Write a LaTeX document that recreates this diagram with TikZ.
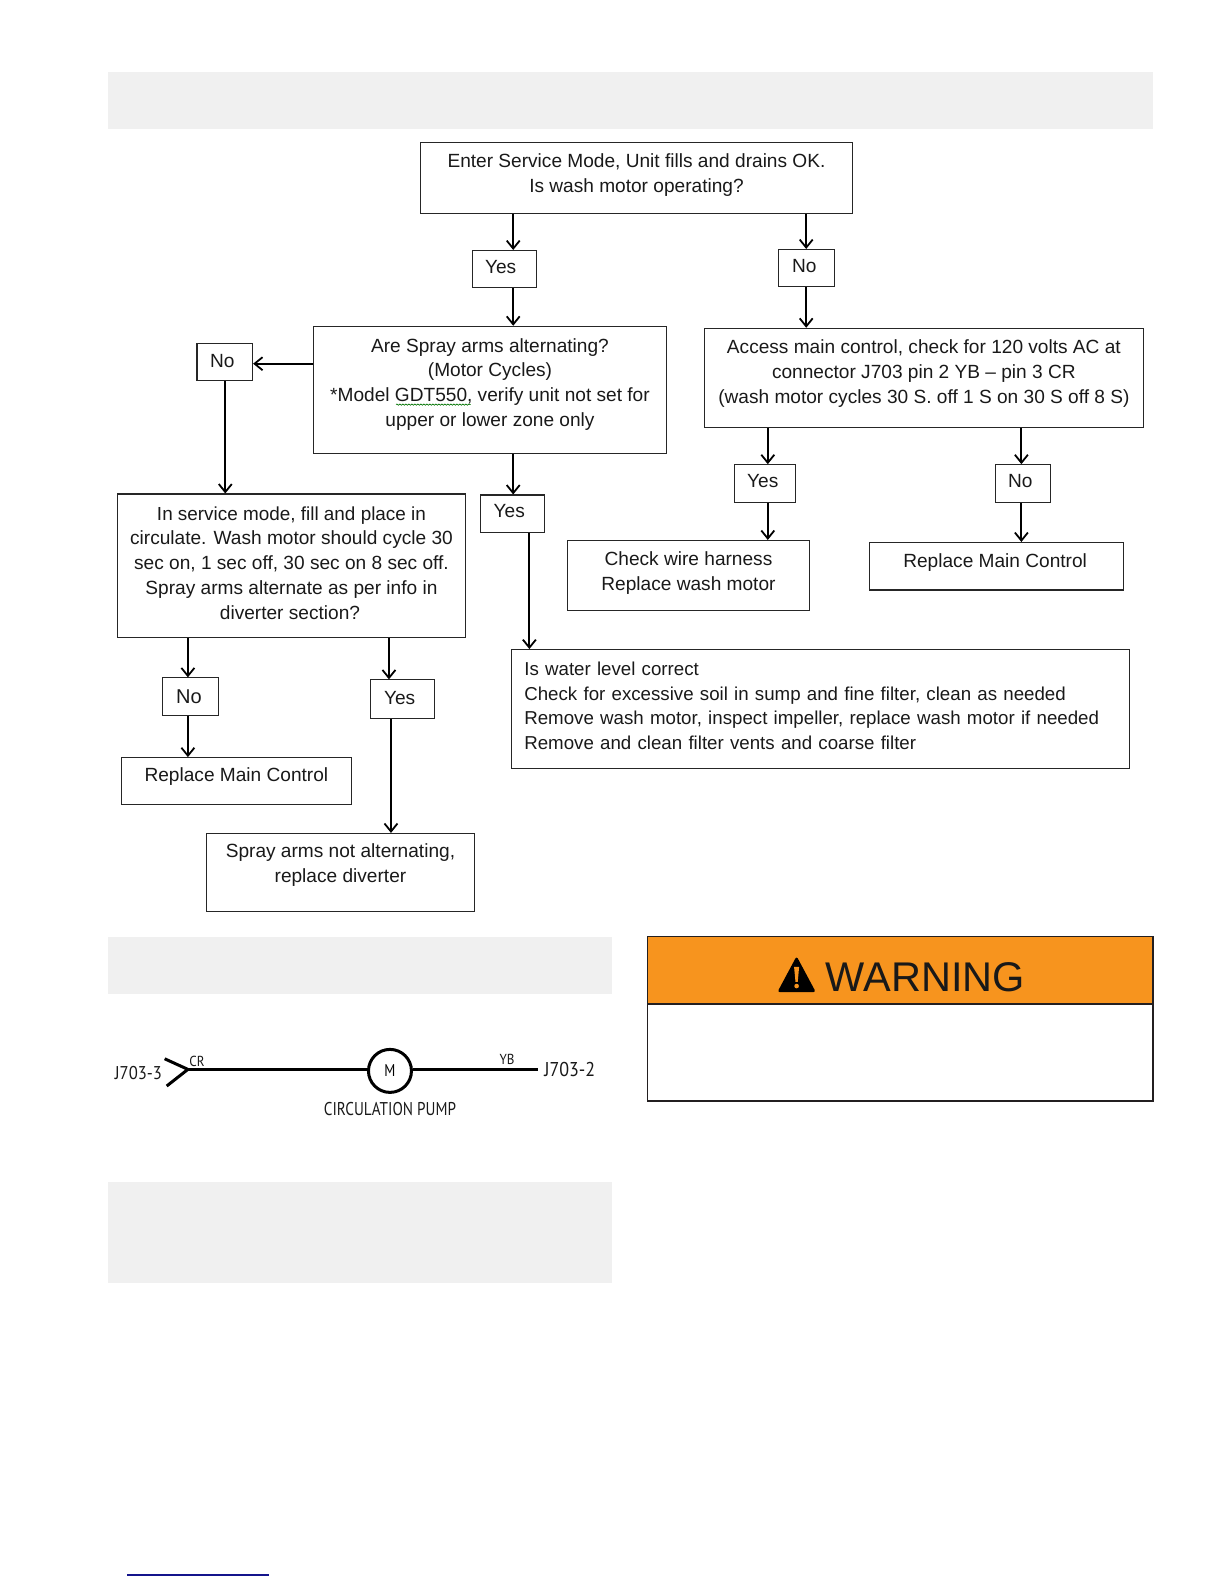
\documentclass[tikz,border=0pt]{standalone}
\usepackage{fontspec}
\setmainfont{Liberation Sans}
\newfontfamily\ptsans[FakeStretch=0.82]{PT Sans}
\newfontfamily\ptwide[FakeStretch=0.9]{PT Sans}
\usetikzlibrary{arrows.meta,decorations.pathmorphing}
\definecolor{band}{HTML}{F0F0F0}
\definecolor{warnorange}{HTML}{F7941E}
\definecolor{framedark}{HTML}{231F20}
\def\sc{1.0103}
\tikzset{
  flowbox/.style={draw=black!85,line width=1.1pt,inner sep=0pt,align=center,text=black!90,font=\fontsize{19.1}{24.8}\selectfont},
  arr/.style={draw=black,line width=1.8pt,-{Straight Barb[length=8pt,width=13pt,line width=1.8pt]}},
  bandfill/.style={fill=band,draw=none},
  wire/.style={draw=black,line width=3pt},
  schem/.style={inner sep=0pt,text=black!90}
}
% name x1 y1 x2 y2 pad text
\newcommand\bx[7]{%
  \pgfmathsetmacro\bw{(#4-#2)*\sc}\pgfmathsetmacro\bh{(#5-#3)*\sc}%
  \node[flowbox,minimum width=\bw pt,minimum height=\bh pt] (#1) at ({(#2+#4)/2},{(#3+#5)/2}) {#7\rule[-#6pt]{0pt}{0pt}};}
\begin{document}
\begin{tikzpicture}[x=1.0103pt,y=-1.0103pt]
\useasboundingbox (0,0) rectangle (1211.5,1567.9);
% grey bands
\fill[bandfill] (107,71) rectangle (1141,128);
\fill[bandfill] (107,927) rectangle (606,984);
\fill[bandfill] (107,1170) rectangle (606,1270);
% boxes
\bx{top}{416}{141}{844}{211}{10}{Enter Service Mode, Unit fills and drains OK.\\Is wash motor operating?}
\bx{yesa}{468}{248}{531}{285}{5}{Yes\kern8pt}
\bx{noa}{771}{247}{826}{284}{5}{No\kern5pt}
\bx{spray}{310}{323}{660}{449}{15}{Are Spray arms alternating?\\(Motor Cycles)\\*Model GDT550, verify unit not set for\\upper or lower zone only}
\bx{access}{697}{325}{1132}{423}{13}{Access main control, check for 120 volts AC at\\connector J703 pin 2 YB -- pin 3 CR\\(wash motor cycles 30 S. off 1 S on 30 S off 8 S)}
\bx{nob}{195}{340}{250}{377}{3}{No\kern5pt}
\bx{yesb}{476}{490}{539}{527}{5}{Yes\kern7pt}
\bx{yesc}{727}{460}{787}{497}{5}{Yes\kern4pt}
\bx{noc}{985}{460}{1040}{497}{5}{No\kern5pt}
\bx{circ}{116}{489}{461}{631}{6}{\fontsize{18.9}{24.8}\selectfont In service mode, fill and place in\\circulate. Wash motor should cycle 30\\sec on, 1 sec off, 30 sec on 8 sec off.\\Spray arms alternate as per info in\\diverter section?\kern3pt}
\bx{harness}{562}{535}{801}{604}{9}{Check wire harness\\Replace wash motor}
\bx{repa}{861}{537}{1112}{584}{12}{Replace Main Control\kern3pt}
\pgfmathsetmacro\bw{612*\sc}\pgfmathsetmacro\bh{118*\sc}\pgfmathsetmacro\tw{586*\sc}
\node[flowbox,font=\fontsize{18.7}{24.8}\selectfont,align=left,minimum width=\bw pt,minimum height=\bh pt,text width=\tw pt] (water) at (812,702) {Is water level correct\\Check for excessive soil in sump and fine filter, clean as needed\\Remove wash motor, inspect impeller, replace wash motor if needed\\Remove and clean filter vents and coarse filter\rule[-7pt]{0pt}{0pt}};
\bx{nod}{161}{671}{216}{708}{0}{\fontsize{20}{24}\selectfont No\kern3pt}
\bx{yesd}{367}{673}{430}{711}{3}{Yes\kern6pt}
\bx{repb}{120}{750}{348}{796}{12}{Replace Main Control}
\bx{notalt}{204}{825}{470}{902}{19}{Spray arms not alternating,\\replace diverter}
% connectors
\draw[arr] (508,0 |- top.south) -- (508,0 |- yesa.north);
\draw[arr] (798,0 |- top.south) -- (798,0 |- noa.north);
\draw[arr] (508,0 |- yesa.south) -- (508,0 |- spray.north);
\draw[arr] (798,0 |- noa.south) -- (798,0 |- access.north);
\draw[arr] (spray.west |- 0,360) -- (nob.east |- 0,360);
\draw[arr] (223,0 |- nob.south) -- (223,0 |- circ.north);
\draw[arr] (508,0 |- spray.south) -- (508,0 |- yesb.north);
\draw[arr] (524,0 |- yesb.south) -- (524,0 |- water.north);
\draw[arr] (760,0 |- access.south) -- (760,0 |- yesc.north);
\draw[arr] (760,0 |- yesc.south) -- (760,0 |- harness.north);
\draw[arr] (1011,0 |- access.south) -- (1011,0 |- noc.north);
\draw[arr] (1011,0 |- noc.south) -- (1011,0 |- repa.north);
\draw[arr] (186,0 |- circ.south) -- (186,0 |- nod.north);
\draw[arr] (186,0 |- nod.south) -- (186,0 |- repb.north);
\draw[arr] (385,0 |- circ.south) -- (385,0 |- yesd.north);
\draw[arr] (387,0 |- yesd.south) -- (387,0 |- notalt.north);
% spell-check squiggle
\draw[green!45!black,line width=.6pt,decorate,decoration={snake,amplitude=.7pt,segment length=3pt}] (392,400.5) -- (466,400.5);
% schematic
\node[draw=black,line width=3pt,circle,inner sep=0pt,minimum size=43pt,font=\ptsans\fontsize{17}{20}\selectfont] (motor) at (386,1060) {M};
\coordinate (plug) at (186,1058.5);
\coordinate (endb) at (533,1058.5);
\draw[wire] (plug) -- (plug -| motor.west);
\draw[wire] (plug -| motor.east) -- (endb);
\draw[wire,line join=miter] (163,1048) -- (plug) -- (165,1075);
\node[schem,font=\ptwide\fontsize{18.5}{22}\selectfont] (ja) at (137,1062) {J703-3};
\node[schem,font=\ptwide\fontsize{20}{22}\selectfont] (jb) at (564,1059) {J703-2};
\node[schem,font=\ptwide\fontsize{14.5}{16}\selectfont] (cr) at (195,1051) {CR};
\node[schem,font=\ptwide\fontsize{14.5}{16}\selectfont] (yb) at (502,1049) {YB};
\node[schem,font=\ptsans\fontsize{18.5}{22}\selectfont] (pump) at (386,1098) {CIRCULATION PUMP};
% warning
\fill[warnorange] (641,927) rectangle (1141,994);
\draw[framedark,line width=1.8pt] (641,927) rectangle (1141,1090);
\draw[framedark,line width=1.8pt] (641,994) -- (1141,994);
\fill[black,rounded corners=2.5pt] (788.5,946.5) -- (807.5,982) -- (769.5,982) -- cycle;
\fill[warnorange] (786,957) -- (791,957) -- (789.6,972) -- (787.4,972) -- cycle;
\fill[warnorange] (788.5,976) circle (2.3);
\node[inner sep=0pt,font=\fontsize{41.5}{46}\selectfont,text=black!90] (warn) at (916,967) {WARNING};
% rule at foot of page
\draw[draw={rgb,255:red,20;green,20;blue,140},line width=1.3pt] (126,1559) -- (266,1559);
\end{tikzpicture}
\end{document}
